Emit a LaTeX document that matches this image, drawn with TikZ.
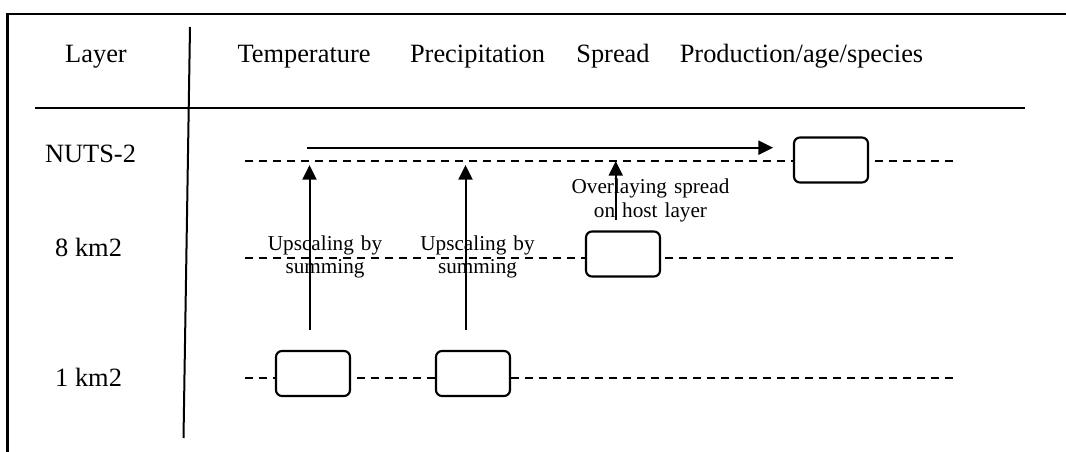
\documentclass[tikz,border=0pt]{standalone}
\usepackage{fontspec}
\setmainfont{Liberation Serif}
\usetikzlibrary{arrows.meta}
\begin{document}
\begin{tikzpicture}[x=0.75pt,y=-0.75pt,
  hdr/.style={anchor=base,inner sep=0pt,font=\fontsize{19.8}{24}\selectfont},
  lbl/.style={anchor=base,inner sep=0pt,text width=130pt,align=center,font=\fontsize{15.9}{17.6}\selectfont},
  frameline/.style={line width=1.8pt},
  rule/.style={line width=1.5pt},
  layerline/.style={line width=1.5pt,dash pattern=on 6pt off 4.5pt},
  cell/.style={draw,line width=1.6pt,fill=white,rounded corners=4.5pt,minimum width=55.5pt,minimum height=33.75pt,inner sep=0pt},
  flow/.style={line width=1.5pt,-{Triangle[length=11pt,width=10.5pt]}}]
\useasboundingbox (0,0) rectangle (1066,452);
% frame
\coordinate (fTL) at (7.5,14);
\coordinate (fTR) at (1066,14);
\coordinate (fBL) at (7.5,452);
\draw[frameline] (fBL) -- (fTL) -- (fTR);
% table rules
\coordinate (sepT) at (190,27);
\coordinate (sepB) at (183.5,438);
\draw[rule] (sepT) -- (sepB);
\coordinate (hL) at (35,108.3);
\coordinate (hR) at (1025,108.3);
\draw[rule] (hL) -- (hR);
% headers
\node[hdr] (hLayer) at (96,63) {Layer};
\node[hdr] (hTemp) at (304,63) {Temperature};
\node[hdr] (hPrec) at (477.5,63) {Precipitation};
\node[hdr] (hSpread) at (613,63) {Spread};
\node[hdr] (hProd) at (801.5,63) {Production/age/species};
% row labels
\node[hdr] (rNuts) at (90.5,163) {NUTS-2};
\node[hdr] (r8) at (88.6,256.7) {8 km2};
\node[hdr] (r1) at (88.6,386.7) {1 km2};
% layer lines
\coordinate (nS) at (245,161.5);
\coordinate (nE) at (953,161.5);
\coordinate (eS) at (245,258);
\coordinate (eE) at (953,258);
\coordinate (oS) at (245,377.7);
\coordinate (oE) at (953,377.7);
\draw[layerline] (nS) -- (nE);
\draw[layerline] (eS) -- (eE);
\draw[layerline] (oS) -- (oE);
% boxes
\node[cell] (bNuts) at (831,160) {};
\node[cell] (bSpread) at (623,254) {};
\node[cell] (bTemp) at (313,373.5) {};
\node[cell] (bPrec) at (473,373.5) {};
% labels
\node[lbl] (lUp1) at (325,250) {Upscaling by\\summing};
\node[lbl] (lUp2) at (477.5,250) {Upscaling by\\summing};
\node[lbl] (lOver) at (650.5,194) {Overlaying spread\\on host layer};
% arrows
\coordinate (a1s) at (309.5,330);
\coordinate (a1e) at (309.5,165);
\coordinate (a2s) at (465.5,330);
\coordinate (a2e) at (465.5,165);
\coordinate (a3s) at (615.7,220);
\coordinate (a3e) at (615.7,161);
\coordinate (a4s) at (307,147.7);
\coordinate (a4e) at (773,147.7);
\draw[flow] (a1s) -- (a1e);
\draw[flow] (a2s) -- (a2e);
\draw[flow] (a3s) -- (a3e);
\draw[flow] (a4s) -- (a4e);
\end{tikzpicture}
\end{document}
